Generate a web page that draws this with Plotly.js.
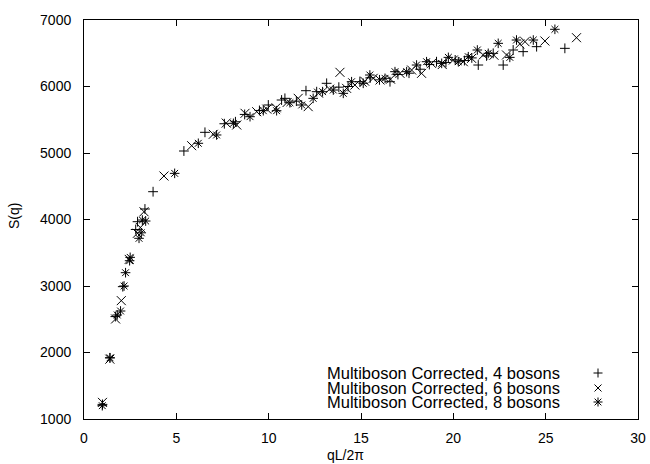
<!DOCTYPE html>
<html>
<head>
<meta charset="utf-8">
<script src="https://cdn.plot.ly/plotly-3.0.1.min.js"></script>
<style>html,body{margin:0;padding:0;background:#fff;}#chart{width:650px;height:464px;}</style>
</head>
<body>
<div id="chart"></div>
<script>
// ---- data ----
const seriesNames = ["Multiboson Corrected, 4 bosons", "Multiboson Corrected, 6 bosons", "Multiboson Corrected, 8 bosons"];

const x4 = [1.0, 1.4, 1.7, 2.1, 2.8, 2.9, 3.3, 3.74, 5.41, 6.55, 7.6, 8.2, 8.7, 9.5, 9.98, 10.7, 10.88, 11.5, 12.02, 12.6, 13.14, 13.8, 14.3, 14.94, 15.5, 16.0, 16.57, 17.0, 17.6, 18.2, 18.7, 19.09, 19.6, 20.1, 20.6, 21.0, 21.35, 21.8, 22.16, 22.7, 23.24, 23.78, 24.51, 26.04];
const s4 = [1220, 1920, 2540, 2990, 3850, 3967, 4158, 4418, 5030, 5311, 5440, 5470, 5580, 5640, 5722, 5797, 5822, 5780, 5937, 5922, 6048, 5990, 6000, 6072, 6130, 6100, 6072, 6180, 6200, 6260, 6330, 6373, 6360, 6400, 6390, 6430, 6323, 6460, 6499, 6323, 6549, 6524, 6599, 6574];

const x6 = [1.0, 1.4, 1.71, 2.02, 2.45, 2.89, 3.05, 3.25, 4.33, 5.83, 7.0, 7.7, 8.27, 8.72, 9.35, 9.9, 10.4, 11.0, 11.6, 12.14, 12.7, 13.3, 13.86, 14.22, 14.67, 15.2, 15.66, 16.03, 16.6, 17.11, 17.74, 18.28, 18.82, 19.4, 20.0, 20.54, 20.99, 21.62, 22.2, 22.88, 23.6, 23.88, 24.96, 26.67];
const s6 = [1250, 1900, 2504, 2780, 3400, 3792, 3880, 4117, 4654, 5110, 5281, 5450, 5421, 5597, 5621, 5660, 5680, 5760, 5822, 5697, 5900, 5960, 6213, 5972, 6022, 6080, 6123, 6098, 6110, 6198, 6248, 6198, 6348, 6330, 6398, 6373, 6423, 6474, 6470, 6474, 6640, 6674, 6684, 6734];

const x8 = [0.99, 1.41, 1.8, 1.98, 2.17, 2.25, 2.47, 2.5, 2.98, 3.1, 3.16, 3.34, 4.91, 6.19, 7.18, 8.09, 8.99, 9.71, 10.43, 11.15, 11.79, 12.41, 12.92, 13.5, 14.04, 14.49, 15.12, 15.48, 16.3, 16.84, 17.47, 18.01, 18.55, 19.37, 19.73, 20.27, 20.81, 21.3, 21.89, 22.43, 23.06, 23.42, 24.33, 25.5];
const s8 = [1200, 1920, 2564, 2624, 3000, 3200, 3380, 3431, 3717, 3800, 3992, 3977, 4694, 5146, 5271, 5446, 5546, 5636, 5636, 5756, 5722, 5822, 5922, 5947, 5897, 6072, 6048, 6173, 6123, 6223, 6223, 6323, 6373, 6348, 6438, 6373, 6448, 6549, 6499, 6649, 6438, 6699, 6699, 6860];

const xTicks = [0, 5, 10, 15, 20, 25, 30];
const yTicks = [1000, 2000, 3000, 4000, 5000, 6000, 7000];
const xTitle = "qL/2π";
const yTitle = "S(q)";

// ---- layout geometry ----
const W = 650, H = 464;
const M = {l: 84, r: 12, t: 20, b: 45};
const PW = W - M.l - M.r, PH = H - M.t - M.b;
const FONT = "Liberation Sans, Arial, Helvetica, sans-serif";
const px = p => (p - M.l) / PW;           // pixel x -> paper
const py = p => (H - M.b - p) / PH;       // pixel y -> paper

const symbols = ["cross-thin-open", "x-thin-open", "asterisk-open"];
const sizes = [7, 9, 8];
const xs = [x4, x6, x8], ss = [s4, s6, s8];

const traces = xs.map((xv, i) => ({
  type: "scatter", mode: "markers", name: seriesNames[i],
  x: xv, y: ss[i], showlegend: false,
  marker: {symbol: symbols[i], size: sizes[i], color: "#000", line: {color: "#000", width: 1}}
}));

// legend (gnuplot style: text right-aligned, key symbol on the right)
const legRows = [373, 388, 402];
const textRight = 561, keyX = 598;
const annotations = seriesNames.map((n, i) => ({
  xref: "paper", yref: "paper", x: px(textRight), y: py(legRows[i]),
  xanchor: "right", yanchor: "middle", showarrow: false, text: n, borderpad: 0,
  font: {family: FONT, size: 16.5, color: "#000"}
}));
annotations.push({xref: "paper", yref: "paper", x: px(345), y: py(455), xanchor: "center", yanchor: "middle",
  showarrow: false, text: xTitle, font: {family: FONT, size: 14, color: "#000"}});
annotations.push({xref: "paper", yref: "paper", x: px(14), y: py(216), xanchor: "center", yanchor: "middle",
  showarrow: false, text: yTitle, textangle: -90, font: {family: FONT, size: 14, color: "#000"}});

function keyPath(type, cx, cy, r) {
  const P = (dx, dy) => px(cx + dx) + "," + py(cy + dy);
  if (type === 0) return "M" + P(-r, 0) + "L" + P(r, 0) + "M" + P(0, -r) + "L" + P(0, r);
  if (type === 1) return "M" + P(-r, -r) + "L" + P(r, r) + "M" + P(-r, r) + "L" + P(r, -r);
  return "M" + P(-r, 0) + "L" + P(r, 0) + "M" + P(0, -r) + "L" + P(0, r) +
         "M" + P(-r*0.75, -r*0.75) + "L" + P(r*0.75, r*0.75) + "M" + P(-r*0.75, r*0.75) + "L" + P(r*0.75, -r*0.75);
}
const shapes = [0, 1, 2].map(i => ({
  type: "path", xref: "paper", yref: "paper", path: keyPath(i, keyX, legRows[i], i === 1 ? 3.5 : 4.5),
  line: {color: "#000", width: 1}
}));

const axisCommon = {
  showgrid: false, zeroline: false, showline: true, linecolor: "#000", linewidth: 1,
  mirror: "ticks", ticks: "inside", ticklen: 6, tickcolor: "#000", tickwidth: 1,
  tickfont: {family: FONT, size: 14, color: "#000"}
};

const layout = {
  width: W, height: H, margin: M,
  paper_bgcolor: "#fff", plot_bgcolor: "#fff",
  xaxis: Object.assign({}, axisCommon, {range: [0, 30], tickvals: xTicks, ticktext: xTicks.map(String), ticklabelstandoff: 6}),
  yaxis: Object.assign({}, axisCommon, {range: [1000, 7000], tickvals: yTicks, ticktext: yTicks.map(v => v + "\u2007\u200A")}),
  annotations: annotations, shapes: shapes, showlegend: false
};

Plotly.newPlot("chart", traces, layout, {staticPlot: true, displayModeBar: false});
</script>
</body>
</html>
